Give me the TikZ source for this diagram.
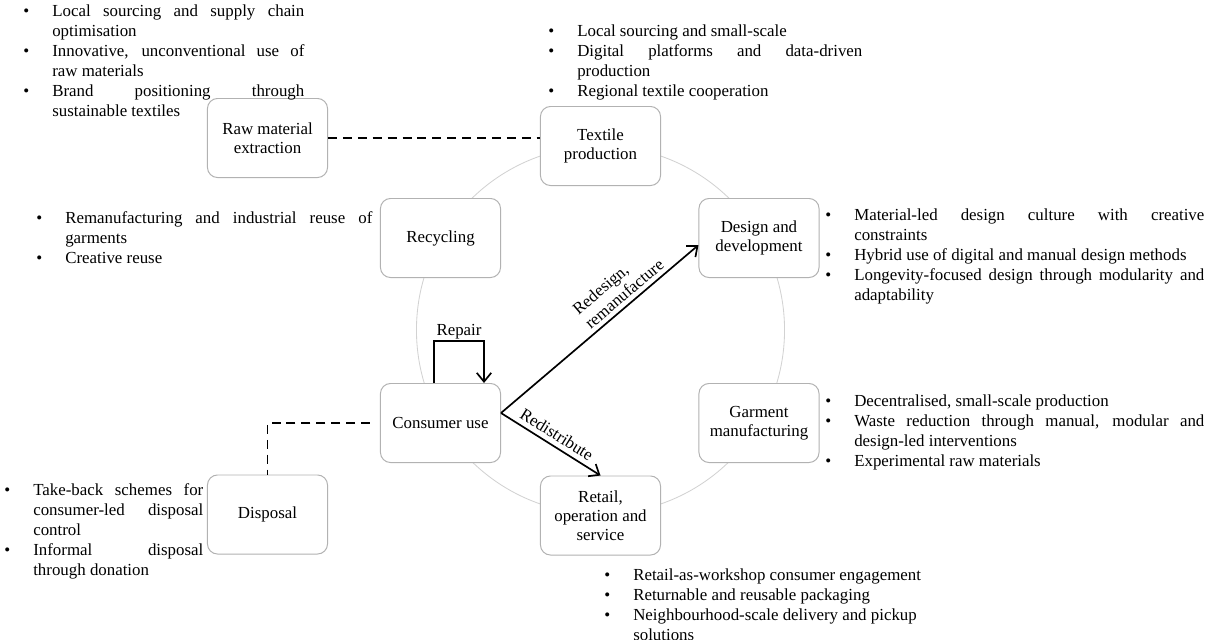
\documentclass[tikz,border=0pt]{standalone}
\usepackage{fontspec}
\setmainfont{Liberation Serif}
\usepackage{enumitem}
\usetikzlibrary{arrows.meta,positioning,calc}
\setlist[itemize]{label=\textbullet, nosep, leftmargin=0.725cm, labelwidth=0.725cm, labelsep=0pt, align=left}
\hyphenpenalty=10000
\exhyphenpenalty=10000
\tolerance=10000
\hbadness=10000

\begin{document}
\begin{tikzpicture}[x=0.025cm, y=-0.025cm,
			stage/.style={draw=gray!60, line width=0.7pt, fill=white, rounded corners=0.25cm, minimum width=3cm, minimum height=1.975cm, align=center, inner sep=2pt, font=\fontsize{12}{13.4}\selectfont},
			notes/.style={anchor=north west, inner sep=0pt, align=justify, font=\fontsize{12}{14.2}\selectfont},
			ring/.style={draw=gray!35, line width=0.6pt},
			arrow/.style={-{Straight Barb[length=2.2mm, width=3.6mm]}, line width=1.2pt},
			link/.style={dash pattern=on 6.4pt off 4.2pt, line width=1.1pt},
			lbl/.style={font=\fontsize{12}{13.4}\selectfont}]
			\useasboundingbox (0,0) rectangle (1212,639);
			
			% life cycle ring
			\coordinate (ctr) at (600.5,330);
			\draw[ring] (ctr) circle (4.6cm);
			
			\node[stage] (raw) at (267.5,138) {Raw material\\extraction};
			\node[stage] (textile) at (600.5,146) {Textile\\production};
			\node[stage] (design) at (759,238) {Design and\\development};
			\node[stage] (garment) at (759,423) {Garment\\manufacturing};
			\node[stage] (retail) at (600.5,515.5) {Retail,\\operation and\\service};
			\node[stage] (cons) at (440.5,423) {Consumer use};
			\node[stage] (recyc) at (440.5,238) {Recycling};
			\node[stage] (disposal) at (267.5,514.5) {Disposal};
			
			% notes per stage
			\node[notes, text width=7.025cm] (rawnotes) at (23,-4) {\begin{itemize}
				\item Local sourcing and supply chain\linebreak optimisation
				\item Innovative, unconventional use of\linebreak raw materials
				\item Brand positioning through\linebreak sustainable textiles
			\end{itemize}};
			\node[notes, text width=7.85cm] (textilenotes) at (548,16) {\begin{itemize}
				\item Local sourcing and small-scale
				\item Digital platforms and data-driven\linebreak production
				\item Regional textile cooperation
			\end{itemize}};
			\node[notes, text width=8.4cm] (recycnotes) at (36,203) {\begin{itemize}
				\item Remanufacturing and industrial reuse of\linebreak garments
				\item Creative reuse
			\end{itemize}};
			\node[notes, text width=9.475cm] (designnotes) at (825,200) {\begin{itemize}
				\item Material-led design culture with creative\linebreak constraints
				\item Hybrid use of digital and manual design methods
				\item Longevity-focused design through modularity and\linebreak adaptability
			\end{itemize}};
			\node[notes, text width=9.475cm] (garmentnotes) at (825,386) {\begin{itemize}
				\item Decentralised, small-scale production
				\item Waste reduction through manual, modular and\linebreak design-led interventions
				\item Experimental raw materials
			\end{itemize}};
			\node[notes, text width=4.975cm] (disposalnotes) at (4,475) {\begin{itemize}
				\item Take-back schemes for\linebreak consumer-led disposal\linebreak control
				\item Informal disposal\linebreak through donation
			\end{itemize}};
			\node[notes, text width=8.125cm] (retailnotes) at (604,560) {\begin{itemize}
				\item Retail-as-workshop consumer engagement
				\item Returnable and reusable packaging
				\item Neighbourhood-scale delivery and pickup\newline solutions
			\end{itemize}};
			
			% links
			\draw[link] (raw.east) -- (raw.east -| textile.west);
			\draw[link, shorten <=0.25cm] (cons.west) -| (disposal.north);
			\draw[arrow] ([xshift=-0.1625cm]cons.north) -- ++(0,-42) -| ([xshift=1.0875cm]cons.north) node[pos=0.25, above=1pt, inner sep=0pt, lbl] {Repair};
			\draw[arrow] ([yshift=0.25cm]cons.east) -- ([yshift=-0.175cm]design.west) node[pos=0.66, above, sloped, align=left, inner sep=3pt, lbl] {Redesign,\\remanufacture};
			\draw[arrow] ([yshift=0.25cm]cons.east) -- (retail.north) node[midway, above, sloped, lbl] {Redistribute};
		\end{tikzpicture}
\end{document}
